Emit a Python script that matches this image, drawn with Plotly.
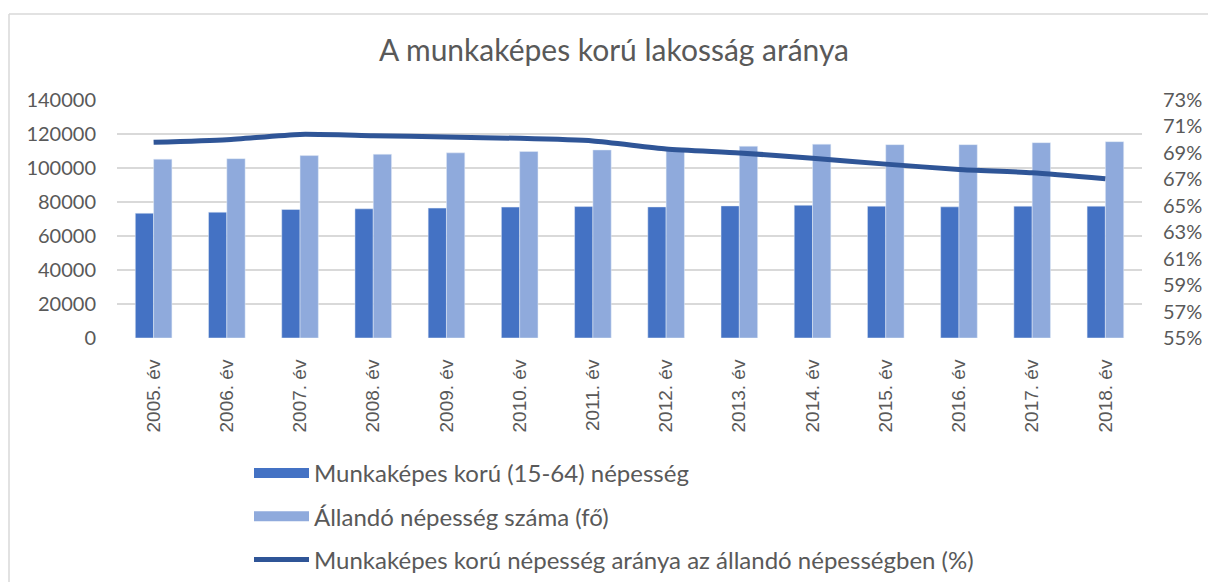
import plotly.graph_objects as go

categories = ["2005. év", "2006. év", "2007. év", "2008. év", "2009. év", "2010. év", "2011. év",
              "2012. év", "2013. év", "2014. év", "2015. év", "2016. év", "2017. év", "2018. év"]
working_age = [73400, 74000, 75600, 76000, 76400, 77000, 77300, 77100, 77700, 78100, 77550, 77150, 77550, 77550]
permanent_pop = [105200, 105500, 107300, 108100, 108900, 109700, 110600, 111300, 112800, 114000, 113750, 113750, 114900, 115500]
ratio_pct = [69.8, 70.0, 70.4, 70.3, 70.2, 70.1, 69.9, 69.3, 69.0, 68.6, 68.15, 67.75, 67.5, 67.05]

left_ticks = [0, 20000, 40000, 60000, 80000, 100000, 120000, 140000]
right_ticks = [55, 57, 59, 61, 63, 65, 67, 69, 71, 73]

names = ["Munkaképes korú (15-64) népesség",
         "Állandó népesség száma (fő)",
         "Munkaképes korú népesség aránya az állandó népességben (%)"]
colors = ["#4472C4", "#8FAADC", "#2F5597"]

TICK_COLOR = "#595959"
GRID = "#D9D9D9"
FONT = "Lato"

W, H = 1208, 582
ML, MR, MT, MB = 117, 66, 100, 244
PW = W - ML - MR
PH = H - MT - MB
BOTTOM = MT + PH

fig = go.Figure()
fig.add_trace(go.Bar(x=categories, y=working_age, name=names[0], showlegend=False,
                     marker=dict(color=colors[0]), legendgroup="a"))
fig.add_trace(go.Bar(x=categories, y=permanent_pop, name=names[1], showlegend=False,
                     marker=dict(color=colors[1]), legendgroup="b"))
# legend entries for the bar series (wide rectangular swatches)
fig.add_trace(go.Scatter(x=[None], y=[None], mode="lines", name=names[0], legendgroup="a",
                         line=dict(color=colors[0], width=10), hoverinfo="skip"))
fig.add_trace(go.Scatter(x=[None], y=[None], mode="lines", name=names[1], legendgroup="b",
                         line=dict(color=colors[1], width=10), hoverinfo="skip"))
fig.add_trace(go.Scatter(x=categories, y=ratio_pct, yaxis="y2", mode="lines", name=names[2],
                         line=dict(color=colors[2], width=5, shape="spline", smoothing=0.6),
                         legendgroup="c"))

fig.update_layout(
    width=W, height=H,
    margin=dict(l=ML, r=MR, t=MT, b=MB, autoexpand=False),
    paper_bgcolor="white", plot_bgcolor="white",
    barmode="group", bargap=0.5, bargroupgap=0.0,
    title=dict(text="A munkaképes korú lakosság aránya", x=614 / W, xref="container",
               y=1 - 50 / H, yref="container", xanchor="center", yanchor="middle",
               font=dict(family=FONT, size=30, color=TICK_COLOR)),
    xaxis=dict(type="category", tickangle=-90, showgrid=False, showline=False,
               ticks="outside", ticklen=13, tickcolor="rgba(0,0,0,0)",
               tickfont=dict(family="Liberation Sans", size=19, color=TICK_COLOR), automargin=False),
    yaxis=dict(range=[0, 140000], tickvals=left_ticks, ticktext=[str(v) for v in left_ticks],
               showgrid=True, gridcolor=GRID, gridwidth=1.5, zeroline=False, showline=False,
               tickfont=dict(family=FONT, size=20, color=TICK_COLOR), automargin=False,
               ticks="outside", ticklen=16, tickcolor="rgba(0,0,0,0)"),
    yaxis2=dict(range=[55, 73], tickvals=right_ticks, ticktext=[f"{v}%" for v in right_ticks],
                overlaying="y", side="right", showgrid=False, zeroline=False, showline=False,
                tickfont=dict(family=FONT, size=20, color=TICK_COLOR), automargin=False,
                ticks="outside", ticklen=16, tickcolor="rgba(0,0,0,0)"),
    legend=dict(x=(249 - ML) / PW, xanchor="left", y=(BOTTOM - 451) / PH, yanchor="top",
                orientation="v", tracegroupgap=9, itemwidth=55,
                font=dict(family=FONT, size=24, color=TICK_COLOR), bgcolor="rgba(0,0,0,0)"),
    shapes=[
        dict(type="line", xref="paper", yref="paper",
             x0=(9 - ML) / PW, x1=(W - ML) / PW, y0=(BOTTOM - 14) / PH, y1=(BOTTOM - 14) / PH,
             line=dict(color=GRID, width=1.5)),
        dict(type="line", xref="paper", yref="paper",
             x0=(9 - ML) / PW, x1=(9 - ML) / PW, y0=(BOTTOM - H) / PH, y1=(BOTTOM - 14) / PH,
             line=dict(color=GRID, width=1.5)),
    ],
)

fig.write_html("out.html", config={"displayModeBar": False},
               post_script="document.body.style.margin='0';document.body.style.overflow='hidden';")
